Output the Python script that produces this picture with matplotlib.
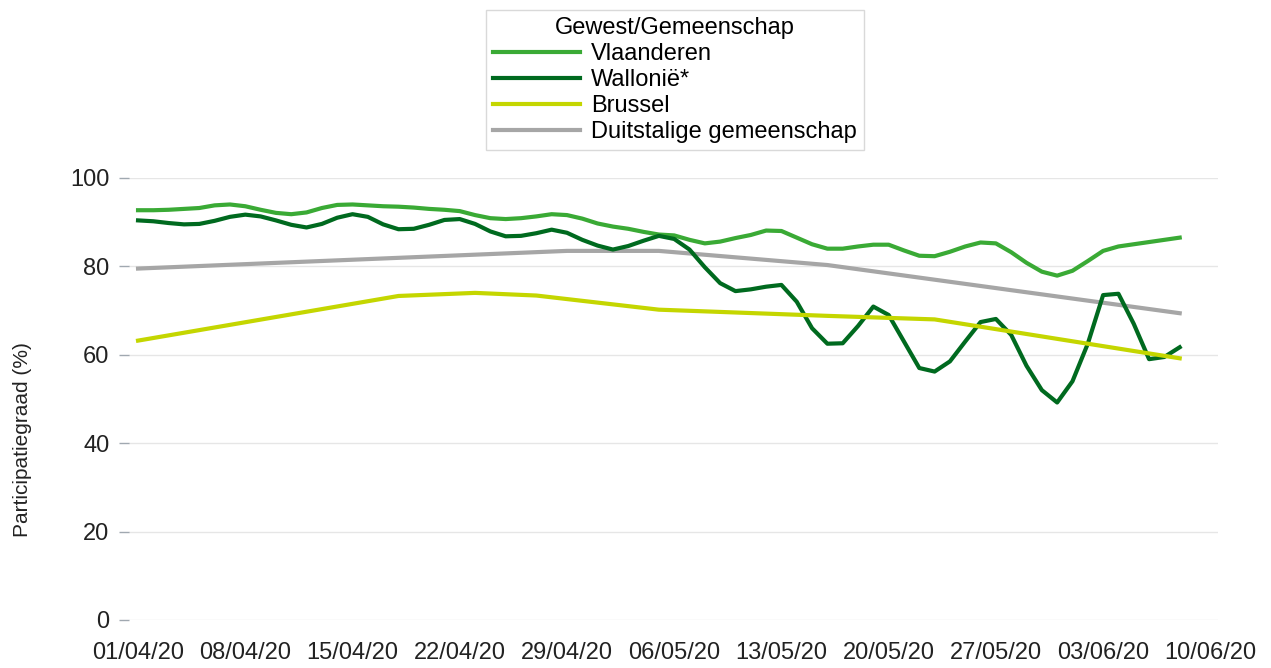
import matplotlib.pyplot as plt
import matplotlib.dates as mdates
import pandas as pd

plt.rcParams['font.family'] = ['Liberation Sans', 'DejaVu Sans']

# daily values 01/04/20 - 08/06/20
dates = pd.date_range('2020-04-01', '2020-06-08')
vlaanderen = [92.7, 92.7, 92.8, 93.0, 93.2, 93.8, 94.0, 93.6, 92.8, 92.1,
              91.8, 92.2, 93.2, 93.9, 94.0, 93.8, 93.6, 93.5, 93.3, 93.0,
              92.8, 92.5, 91.6, 90.9, 90.7, 90.9, 91.3, 91.8, 91.6, 90.8,
              89.7, 89.0, 88.5, 87.8, 87.2, 87.0, 86.0, 85.2, 85.6, 86.4,
              87.1, 88.1, 88.0, 86.5, 85.0, 84.0, 84.0, 84.5, 84.9, 84.9,
              83.6, 82.4, 82.3, 83.3, 84.5, 85.4, 85.2, 83.2, 80.8, 78.8,
              77.9, 79.0, 81.2, 83.5, 84.5, 85.0, 85.5, 86.0, 86.5]
wallonie = [90.4, 90.2, 89.8, 89.5, 89.6, 90.3, 91.2, 91.7, 91.3, 90.4,
            89.4, 88.8, 89.6, 91.0, 91.8, 91.2, 89.5, 88.4, 88.5, 89.4,
            90.5, 90.7, 89.6, 87.9, 86.8, 86.9, 87.5, 88.3, 87.6, 86.0,
            84.7, 83.8, 84.6, 85.8, 86.9, 86.2, 83.8, 79.8, 76.2, 74.4,
            74.8, 75.4, 75.8, 72.0, 66.0, 62.5, 62.6, 66.5, 70.9, 69.0,
            63.0, 57.0, 56.2, 58.5, 63.0, 67.4, 68.1, 64.5, 57.5, 52.0,
            49.2, 54.0, 62.5, 73.5, 73.8, 67.0, 59.0, 59.5, 61.7]

brussel_dates = pd.to_datetime(['2020-04-01', '2020-04-18', '2020-04-23', '2020-04-27',
                                '2020-05-05', '2020-05-16', '2020-05-23', '2020-06-08'])
brussel = [63.2, 73.3, 74.0, 73.4, 70.2, 68.8, 68.0, 59.2]

duits_dates = pd.to_datetime(['2020-04-01', '2020-04-29', '2020-05-05', '2020-05-16', '2020-06-08'])
duits = [79.5, 83.5, 83.5, 80.3, 69.4]

tick_dates = pd.date_range('2020-04-01', '2020-06-10', freq='7D')

fig = plt.figure(figsize=(12.71, 6.68), dpi=100)
ax = fig.add_axes([0.1015, 0.0719, 0.8568, 0.6617])

ax.plot(dates, vlaanderen, color='#3aaa35', lw=3.0, label='Vlaanderen', zorder=3)
ax.plot(dates, wallonie, color='#006a1f', lw=3.0, label='Wallonië*', zorder=3)
ax.plot(brussel_dates, brussel, color='#c4d600', lw=3.0, label='Brussel', zorder=3)
ax.plot(duits_dates, duits, color='#a6a6a6', lw=3.0, label='Duitstalige gemeenschap', zorder=2)

start = pd.Timestamp('2020-04-01')
ax.set_xlim(start - pd.Timedelta(days=0.59), start + pd.Timedelta(days=70.5))
ax.set_ylim(0, 100)
ax.set_xticks(tick_dates)
ax.xaxis.set_major_formatter(mdates.DateFormatter('%d/%m/%y'))
ax.set_yticks([0, 20, 40, 60, 80, 100])

for s in ax.spines.values():
    s.set_visible(False)
ax.grid(axis='y', color='#e6e6e6', lw=1)
ax.set_axisbelow(True)
ax.tick_params(axis='x', length=0, pad=16, labelsize=17, labelcolor='#222222')
ax.tick_params(axis='y', length=7, width=1, color='#a0a8b0', pad=7, labelsize=17,
               labelcolor='#222222')

fig.text(22 / 1271, 1 - 440 / 668, 'Participatiegraad (%)', rotation=90,
         ha='center', va='center', fontsize=15, color='#222222')

leg = fig.legend(loc='upper center', bbox_to_anchor=(675 / 1271, 1 - 10 / 668),
                 title='Gewest/Gemeenschap', fontsize=17, title_fontsize=17,
                 handlelength=3.7, handletextpad=0.45, labelspacing=0.17,
                 borderpad=0.3, borderaxespad=0, fancybox=False,
                 edgecolor='#d9d9d9', framealpha=1)
leg.get_frame().set_linewidth(1)

plt.savefig('out.png', dpi=100)
